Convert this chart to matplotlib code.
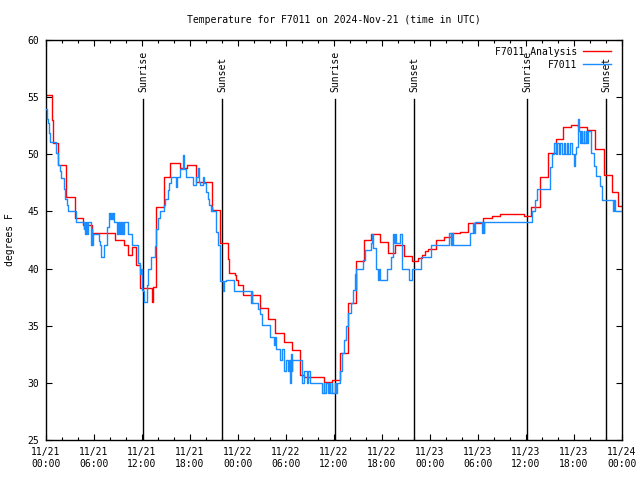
import matplotlib
matplotlib.use("Agg")
import matplotlib.pyplot as plt

plt.rcParams['font.family'] = 'DejaVu Sans Mono'
plt.rcParams['font.size'] = 7

# hours since 2024-11-21 00:00 UTC
sun_times = [12.125, 22.0, 36.125, 46.0, 60.125, 70.0]
sun_labels = ['Sunrise', 'Sunset', 'Sunrise', 'Sunset', 'Sunrise', 'Sunset']

# analysis (red), step values
red_t = [0, 0.7, 0.85, 1.55, 2.5, 3.6, 4.65, 5.7, 8.6, 9.7, 10.3, 10.7, 11.3, 11.75,
         13.2, 13.4, 13.75, 14.8, 15.5, 16.75, 17.6, 18.75, 20.7, 21.75, 22.7, 22.9,
         23.6, 23.8, 24.0, 24.6, 26.7, 27.7, 28.6, 29.7, 30.7, 31.7, 32.2, 34.7, 35.7,
         36.7, 37.7, 38.75, 39.7, 40.6, 41.75, 42.7, 43.6, 44.7, 45.7, 46.5, 47.0, 47.4,
         47.8, 48.75, 49.7, 50.6, 51.7, 52.7, 54.6, 55.7, 56.7, 57.7, 58.6, 59.7, 60.6,
         61.7, 62.8, 63.75, 64.6, 65.6, 66.5, 67.6, 68.6, 69.75, 70.7, 71.5, 72.0]
red_v = [55.2, 53.0, 51.0, 49.1, 46.3, 44.4, 43.8, 43.1, 42.5, 42.1, 41.2, 41.9, 40.3, 38.3,
         37.1, 38.4, 45.4, 48.0, 49.2, 48.8, 49.1, 47.6, 45.1, 42.2, 40.8, 39.6,
         39.4, 39.0, 38.6, 37.7, 36.55, 35.6, 34.4, 33.55, 32.9, 30.7, 30.5, 30.1, 30.25,
         32.6, 37.0, 40.7, 42.5, 43.0, 42.35, 41.4, 42.1, 41.1, 40.65, 40.9, 41.2, 41.5,
         41.7, 42.5, 42.8, 43.1, 43.2, 44.0, 44.45, 44.6, 44.8, 44.8, 44.75, 44.6, 45.4,
         48.0, 50.1, 51.35, 52.4, 52.55, 52.4, 52.1, 50.5, 48.2, 46.7, 45.5, 45.5]

# station observations (blue)
blue_t = [0.0, 0.1, 0.3, 0.4, 0.5, 1.2, 1.5, 1.7, 1.9, 2.2, 2.4, 2.6, 2.8, 3.8,
          4.7, 4.8, 4.9, 5.0, 5.1, 5.3, 5.6, 5.7, 5.8, 5.9, 6.6, 6.75, 6.9, 7.2, 7.6,
          7.9, 8.0, 8.1, 8.25, 8.35, 8.5, 8.9, 9.0, 9.1, 9.2, 9.35, 9.5, 9.6, 9.7,
          10.3, 10.7, 11.5, 11.7, 11.85, 12.0, 12.1, 12.3, 12.6, 12.8, 13.1, 13.6, 13.7,
          13.8, 14.0, 14.3, 14.7, 14.9, 15.2, 15.4, 15.6, 16.3, 16.4, 16.8, 17.1, 17.3,
          17.5, 18.4, 18.7, 19.0, 19.1, 19.2, 19.6, 19.8, 20.0, 20.2, 20.4, 20.6, 20.7,
          20.8, 21.3, 21.5, 21.7, 21.8, 22.1, 22.2, 22.5, 23.5, 25.6, 25.7, 25.8, 26.5,
          26.75, 27.0, 28.0, 28.5, 28.6, 28.7, 28.8, 29.25, 29.5, 29.8, 30.0, 30.3, 30.4,
          30.5, 30.6, 30.7, 30.8, 32.0, 32.2, 32.6, 32.7, 33.0, 34.5, 34.7, 34.8, 35.0,
          35.2, 35.4, 35.5, 35.7, 35.8, 36.1, 36.2, 36.4, 36.7, 37.0, 37.2, 37.5, 37.7,
          38.1, 38.4, 38.6, 38.7, 38.8, 39.6, 39.9, 40.6, 40.8, 40.9, 41.2, 41.5, 41.6,
          41.7, 42.6, 43.1, 43.4, 43.5, 43.6, 43.8, 44.2, 44.5, 45.4, 45.7, 46.9, 48.1,
          50.4, 50.6, 50.7, 50.9, 53.0, 53.4, 53.5, 53.6, 54.5, 54.6, 54.7, 54.8, 60.7,
          61.1, 61.4, 63.0, 63.3, 63.5, 63.7, 63.9, 64.1, 64.3, 64.5, 64.7, 64.9, 65.1,
          65.3, 65.5, 65.7, 66.0, 66.1, 66.3, 66.5, 66.6, 66.7, 66.9, 67.0, 67.2, 67.3,
          67.5, 67.6, 67.8, 68.0, 68.1, 68.5, 68.7, 69.3, 69.5, 70.9, 71.0, 71.1, 72.0]
blue_v = [54.0, 53.1, 52.7, 51.9, 51.05, 50.1, 49.1, 48.5, 47.9, 47.0, 46.1, 45.6, 45.0, 44.05,
          43.5, 44.05, 43.0, 44.05, 43.0, 44.05, 42.1, 43.5, 42.1, 43.0, 42.4, 42.1, 41.0, 42.1, 43.6,
          44.9, 44.3, 44.9, 44.3, 44.9, 44.05, 43.0, 44.05, 43.0, 44.05, 43.0, 44.05, 43.0, 44.05,
          43.0, 42.1, 40.5, 39.5, 40.0, 38.1, 38.0, 37.1, 38.6, 40.0, 41.0, 42.0, 42.6,
          43.5, 44.4, 45.0, 45.6, 46.1, 46.9, 47.5, 48.0, 47.1, 48.0, 48.7, 49.9, 48.7,
          48.0, 47.3, 48.0, 48.8, 47.6, 47.3, 48.0, 47.5, 46.7, 46.1, 45.6, 45.0, 45.4,
          45.0, 43.2, 42.1, 40.3, 38.9, 38.0, 38.9, 39.0, 38.0, 37.0, 38.0, 37.0, 36.5,
          36.0, 35.1, 34.0, 33.3, 34.0, 33.3, 33.0, 32.0, 33.0, 31.0, 32.0, 31.0, 32.0,
          30.0, 32.5, 31.0, 32.0, 30.0, 31.0, 30.0, 31.0, 30.0, 29.1, 30.0, 29.1, 30.0,
          29.1, 30.0, 29.1, 30.0, 29.1, 30.0, 29.1, 30.0, 31.0, 32.6, 33.75, 35.0, 36.1,
          37.0, 38.1, 39.5, 38.1, 40.0, 40.75, 41.6, 42.2, 43.0, 41.8, 40.0, 39.0, 40.0,
          39.0, 40.0, 41.0, 43.0, 42.2, 43.0, 42.2, 43.0, 40.0, 39.0, 40.0, 41.0, 42.06,
          43.1, 42.06, 43.1, 42.06, 43.1, 44.0, 43.1, 44.05, 43.1, 44.05, 43.1, 44.05, 45.0,
          46.0, 47.0, 48.9, 50.0, 51.0, 50.0, 51.0, 50.0, 51.0, 50.0, 51.0, 50.0, 51.0,
          50.0, 51.0, 50.0, 49.0, 50.0, 50.6, 53.1, 52.0, 51.0, 52.0, 51.0, 52.0, 51.0,
          52.0, 51.0, 52.0, 52.0, 50.1, 49.0, 48.1, 47.2, 46.0, 45.0, 46.0, 45.0, 45.0]

tick_hours = [0, 6, 12, 18, 24, 30, 36, 42, 48, 54, 60, 66, 72]
tick_labels = ['11/21\n00:00', '11/21\n06:00', '11/21\n12:00', '11/21\n18:00',
               '11/22\n00:00', '11/22\n06:00', '11/22\n12:00', '11/22\n18:00',
               '11/23\n00:00', '11/23\n06:00', '11/23\n12:00', '11/23\n18:00',
               '11/24\n00:00']

fig = plt.figure(figsize=(6.4, 4.8), dpi=100)
ax = fig.add_axes([46/640, 40/480, 576/640, 400/480])

for t, lab in zip(sun_times, sun_labels):
    ax.plot([t, t], [25, 54.85], color='black', linewidth=1.0, zorder=1)
    ax.text(t, 55.45, lab, rotation=90, ha='center', va='bottom', fontsize=7)

ax.step(red_t, red_v, where='post', color='#ff0000', linewidth=1.0, label='F7011 Analysis', zorder=2)
ax.step(blue_t, blue_v, where='post', color='#1a8cff', linewidth=1.0, label='F7011', zorder=3)

ax.set_xlim(0, 72)
ax.set_ylim(25, 60)
ax.set_xticks(tick_hours)
ax.set_xticklabels(tick_labels)
ax.set_xticks(range(0, 73, 2), minor=True)
ax.set_yticks(range(25, 61, 5))
ax.tick_params(which='both', direction='in', top=True, right=True, width=0.8)
ax.tick_params(which='major', length=4, pad=5)
ax.tick_params(which='minor', length=2.5)
for s in ax.spines.values():
    s.set_linewidth(1.0)

ax.set_ylabel('degrees F')
ax.yaxis.set_label_coords(-0.054, 0.5)
ax.set_title('Temperature for F7011 on 2024-Nov-21 (time in UTC)', pad=12, fontsize=7)

ax.legend(loc='upper right', bbox_to_anchor=(0.988, 0.993), frameon=False,
          markerfirst=False, handlelength=2.9, handletextpad=0.6,
          borderaxespad=0.0, labelspacing=0.3, fontsize=7)

plt.savefig('out.png', dpi=100)
